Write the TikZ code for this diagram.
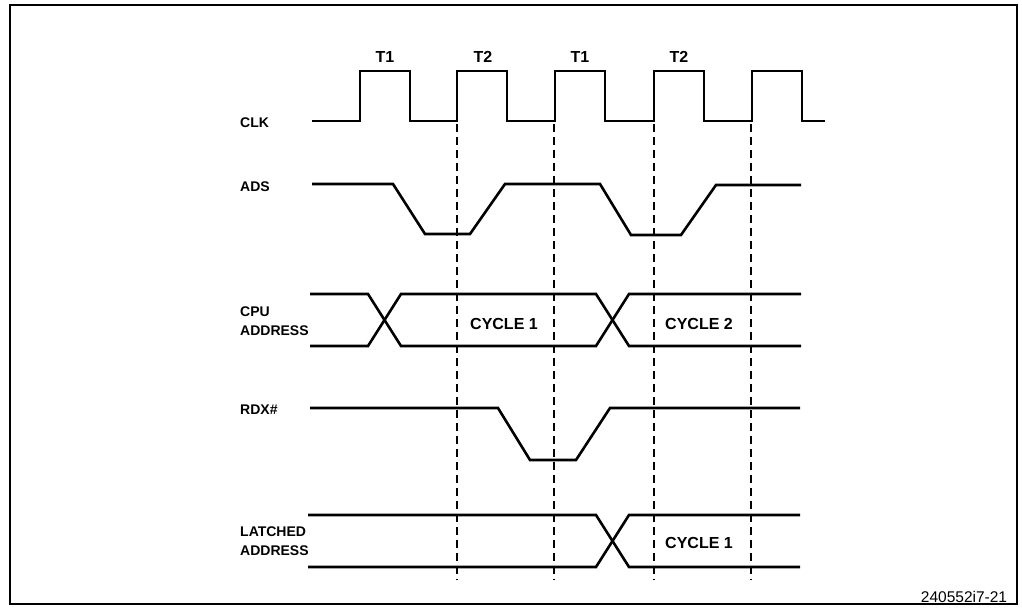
\documentclass[tikz,border=0pt]{standalone}
\usepackage{fontspec}
\setmainfont{Liberation Sans}
\usetikzlibrary{positioning}

\begin{document}
\begin{tikzpicture}[x=1pt,y=-1pt,
 sig/.style={line width=2.6pt,line join=miter},
 guide/.style={line width=1.2pt,dash pattern=on 8pt off 5pt},
 lbl/.style={anchor=west,align=left,inner sep=0pt,font=\fontsize{14}{19}\selectfont\bfseries},
 txt/.style={inner sep=0pt,font=\fontsize{16}{18}\selectfont\bfseries}]
\useasboundingbox (0,0) rectangle (1022,610);
\draw[line width=2pt] (10,5) rectangle (1017,604);
% signal names
\node[lbl] (clk) at (240,123) {CLK};
\node[lbl] (ads) at (240,187) {ADS};
\node[lbl] (cpu) at (240,321) {CPU\\ADDRESS};
\node[lbl] (rdx) at (240,410) {RDX\#};
\node[lbl] (lat) at (240,541) {LATCHED\\ADDRESS};
% clock states
\node[txt] (s1) at (385,57) {T1};
\node[txt] (s2) at (483,57) {T2};
\node[txt] (s3) at (580,57) {T1};
\node[txt] (s4) at (679,57) {T2};
% waveforms
\draw[sig] (312,121) foreach \r in {360,457,555,654,752} { -- (\r,121) -- (\r,71) -- (\r+50,71) -- (\r+50,121) } -- (825,121);
\draw[sig] (312,184) -- (393,184) -- (425,234) -- (470,234) -- (505,184) -- (600,184) -- (631,235) -- (681,235) -- (716,185) -- (801,185);
\draw[sig] (310,294) -- (368,294) -- (401,346) -- (596,346) -- (629,294) -- (801,294);
\draw[sig] (310,346) -- (368,346) -- (401,294) -- (596,294) -- (629,346) -- (801,346);
\draw[sig] (310,408) -- (498,408) -- (530,460) -- (576,460) -- (610,408) -- (800,408);
\draw[sig] (308,515) -- (596,515) -- (629,567) -- (800,567);
\draw[sig] (308,567) -- (596,567) -- (629,515) -- (800,515);
% bus contents
\node[txt] (cyc1) at (504,324) {CYCLE 1};
\node[txt] (cyc2) at (699,324) {CYCLE 2};
\node[txt] (lcyc) at (699,543) {CYCLE 1};
% T2 start markers
\foreach \x in {457,554,654,751}
  \draw[guide] (\x,124) -- (\x,580);
\node[inner sep=0pt,font=\fontsize{15.5}{18}\selectfont] (fig) at (964,597) {240552i7-21};
\end{tikzpicture}
\end{document}
